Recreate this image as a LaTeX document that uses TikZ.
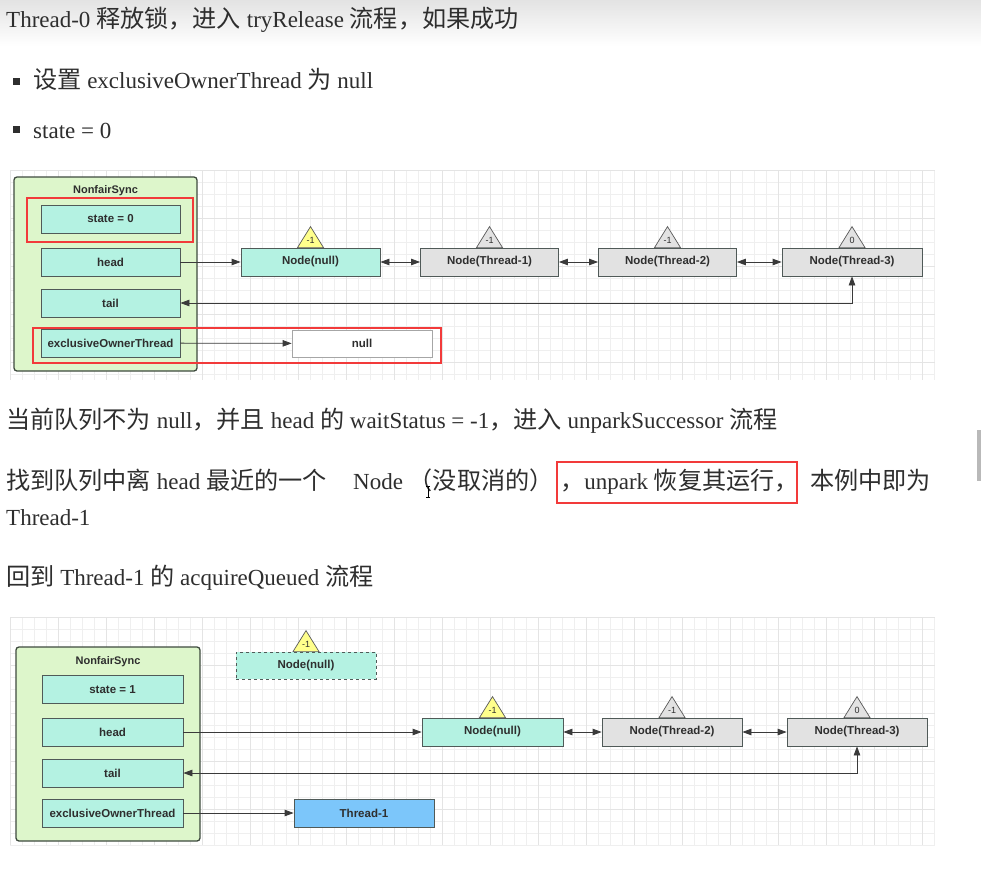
\documentclass[tikz,border=0pt]{standalone}
\usepackage{fontspec}
\setmainfont{Liberation Serif}
\setsansfont{Liberation Sans}
\newfontfamily\cjk[Scale=1.05]{Noto Sans CJK SC}
\usetikzlibrary{arrows.meta,calc}

\newcommand{\zh}[1]{{\cjk #1}}

\definecolor{txt}{HTML}{2E2E2E}
\definecolor{syncfill}{HTML}{DDF6CB}
\definecolor{syncdraw}{HTML}{3E4A3E}
\definecolor{fieldfill}{HTML}{B4F2E2}
\definecolor{boxdraw}{HTML}{505A58}
\definecolor{nodegray}{HTML}{E2E2E2}
\definecolor{flagyellow}{HTML}{FFFF8C}
\definecolor{threadblue}{HTML}{7CC6FA}
\definecolor{hilite}{HTML}{F23A3A}
\definecolor{gridminor}{HTML}{EFEFEF}
\definecolor{gridmajor}{HTML}{E4E4E4}
\definecolor{linegray}{HTML}{3A3A3A}

\tikzset{
  body/.style={anchor=base west, inner sep=0pt, text=txt, font=\fontsize{23}{28}\selectfont},
  syncbox/.style={draw=syncdraw, fill=syncfill, line width=1.3pt, rounded corners=3pt,
    minimum width=183pt, minimum height=194pt, inner sep=0pt},
  synctitle/.style={inner sep=0pt, text=txt, font=\sffamily\bfseries\fontsize{11}{13}\selectfont},
  boxtext/.style={inner sep=0pt, text=txt, font=\sffamily\bfseries\fontsize{11.5}{13}\selectfont},
  field/.style={boxtext, draw=boxdraw, fill=fieldfill, line width=0.8pt,
    minimum width=139pt, minimum height=28pt},
  qnode/.style={boxtext, draw=boxdraw, fill=nodegray, line width=0.8pt,
    minimum width=138pt, minimum height=28pt},
  headnode/.style={qnode, fill=fieldfill},
  valbox/.style={boxtext, draw=gray!70, fill=white, line width=0.8pt,
    minimum width=140pt, minimum height=27pt},
  threadbox/.style={boxtext, draw=boxdraw, fill=threadblue, line width=0.8pt,
    minimum width=140pt, minimum height=28pt},
  tri/.style={draw=gray!70!black, line width=0.7pt, line join=miter},
  trilabel/.style={inner sep=0pt, text=txt, font=\sffamily\fontsize{9}{10}\selectfont},
  conn/.style={draw=linegray, line width=0.8pt, -{Triangle[length=9pt,width=6.5pt]}},
  biconn/.style={draw=linegray, line width=0.8pt,
    {Triangle[length=9pt,width=6.5pt]}-{Triangle[length=9pt,width=6.5pt]}},
  hilitebox/.style={draw=hilite, line width=2.2pt},
}

% wait-status flag on top of a queue node: node name, fill colour, value
\newcommand{\statusflag}[3]{%
  \draw[tri, fill=#2] ($(#1.north)+(-13,0)$) -- ($(#1.north)+(0,-21)$) -- ($(#1.north)+(13,0)$) -- cycle;
  \node[trilabel] (#1-ws) at ($(#1.north)+(0,-7.5)$) {#3};}

% light drawing-board grid
\newcommand{\boardgrid}[4]{%
  \fill[white] (#1,#2) rectangle (#3,#4);
  \pgfmathsetmacro{\gxa}{#1+12}
  \foreach \gx in {#1,\gxa,...,#3} \draw[gridminor, line width=0.5pt] (\gx,#2) -- (\gx,#4);
  \pgfmathsetmacro{\gya}{#2+12}
  \foreach \gy in {#2,\gya,...,#4} \draw[gridminor, line width=0.5pt] (#1,\gy) -- (#3,\gy);
  \pgfmathsetmacro{\gxb}{#1+48}
  \foreach \gx in {#1,\gxb,...,#3} \draw[gridmajor, line width=0.6pt] (\gx,#2) -- (\gx,#4);
  \pgfmathsetmacro{\gyb}{#2+48}
  \foreach \gy in {#2,\gyb,...,#4} \draw[gridmajor, line width=0.6pt] (#1,\gy) -- (#3,\gy);}

\begin{document}
\begin{tikzpicture}[x=1pt, y=-1pt]
  % page
  \fill[white] (0,0) rectangle (981,872);
  \useasboundingbox (0,0) rectangle (981,872);
  \shade[top color=gray!22, bottom color=white] (0,0) rectangle (981,46);
  \fill[gray!55] (977,430) rectangle (981,481);

  % ---------- text above the first diagram ----------
  \node[body] (line1) at (6,28) {Thread-0 \zh{释放锁，进入} tryRelease \zh{流程，如果成功}};
  \fill[txt] (13,78) rectangle (20,85);
  \node[body] (item1) at (33,89) {\zh{设置} exclusiveOwnerThread \zh{为} null};
  \fill[txt] (13,126) rectangle (20,133);
  \node[body] (item2) at (33,138) {state = 0};

  % ---------- first diagram ----------
  \boardgrid{10}{170}{935}{380}

  \node[syncbox] (sync1) at (105.5,274) {};
  \node[synctitle] (sync1-t) at (105.5,191) {NonfairSync};
  \node[field] (state1) at (110.5,219) {state = 0};
  \node[field] (head1) at (110.5,262) {head};
  \node[field] (tail1) at (110.5,303) {tail};
  \node[field] (eot1) at (110.5,343) {exclusiveOwnerThread};
  \node[valbox] (null1) at (362,343.5) {null};

  \node[headnode, minimum width=139pt] (a0) at (310.5,262) {Node(null)};
  \node[qnode] (a1) at (489.5,262) {Node(Thread-1)};
  \node[qnode] (a2) at (667.5,262) {Node(Thread-2)};
  \node[qnode, minimum width=140pt] (a3) at (852,262) {Node(Thread-3)};
  \statusflag{a0}{flagyellow}{-1}
  \statusflag{a1}{nodegray}{-1}
  \statusflag{a2}{nodegray}{-1}
  \statusflag{a3}{nodegray}{0}

  \draw[conn] (head1) -- (a0);
  \draw[biconn] (a0) -- (a1);
  \draw[biconn] (a1) -- (a2);
  \draw[biconn] (a2) -- (a3);
  \draw[biconn] (a3.south) |- (tail1.east);
  \draw[conn] (eot1) -- (null1);

  \draw[hilitebox] (27,198) rectangle (193,242);
  \draw[hilitebox] (33,328) rectangle (441,363);

  % ---------- text between the diagrams ----------
  \node[body] (line2) at (6,428) {\zh{当前队列不为} null\zh{，并且} head \zh{的} waitStatus = -1\zh{，进入} unparkSuccessor \zh{流程}};
  \node[body] (line3a) at (6,489) {\zh{找到队列中离} head \zh{最近的一个}};
  \node[body] (line3b) at (353,489) {Node \zh{（没取消的）}};
  \node[body] (line3c) at (560,489) {\zh{，}unpark \zh{恢复其运行，}};
  \node[body] (line3d) at (810,489) {\zh{本例中即为}};
  \node[body] (line3e) at (6,525) {Thread-1};
  \node[body] (line4) at (6,585) {\zh{回到} Thread-1 \zh{的} acquireQueued \zh{流程}};
  \draw[hilitebox] (557,462) rectangle (797,503);
  % mouse text cursor
  \draw[black, line width=0.6pt] (428,486) -- (428,497) (426,486) -- (430,486) (426,497) -- (430,497);

  % ---------- second diagram ----------
  \boardgrid{10}{617}{935}{845}

  \node[syncbox, minimum width=184pt] (sync2) at (108,744) {};
  \node[synctitle] (sync2-t) at (108,662) {NonfairSync};
  \node[field, minimum width=141pt] (state2) at (112.5,689.5) {state = 1};
  \node[field, minimum width=141pt] (head2) at (112.5,732) {head};
  \node[field, minimum width=141pt] (tail2) at (112.5,773) {tail};
  \node[field, minimum width=141pt] (eot2) at (112.5,813) {exclusiveOwnerThread};

  \node[headnode, dashed, minimum width=140pt, minimum height=27pt] (old) at (306,665.5) {Node(null)};
  \statusflag{old}{flagyellow}{-1}
  \node[threadbox] (thr1) at (364,813) {Thread-1};

  \node[headnode, minimum width=141pt] (b0) at (492.5,732) {Node(null)};
  \node[qnode, minimum width=140pt] (b2) at (672,732) {Node(Thread-2)};
  \node[qnode, minimum width=140pt] (b3) at (857,732) {Node(Thread-3)};
  \statusflag{b0}{flagyellow}{-1}
  \statusflag{b2}{nodegray}{-1}
  \statusflag{b3}{nodegray}{0}

  \draw[conn] (head2) -- (b0);
  \draw[biconn] (b0) -- (b2);
  \draw[biconn] (b2) -- (b3);
  \draw[biconn] (b3.south) |- (tail2.east);
  \draw[conn] (eot2) -- (thr1);
\end{tikzpicture}
\end{document}
